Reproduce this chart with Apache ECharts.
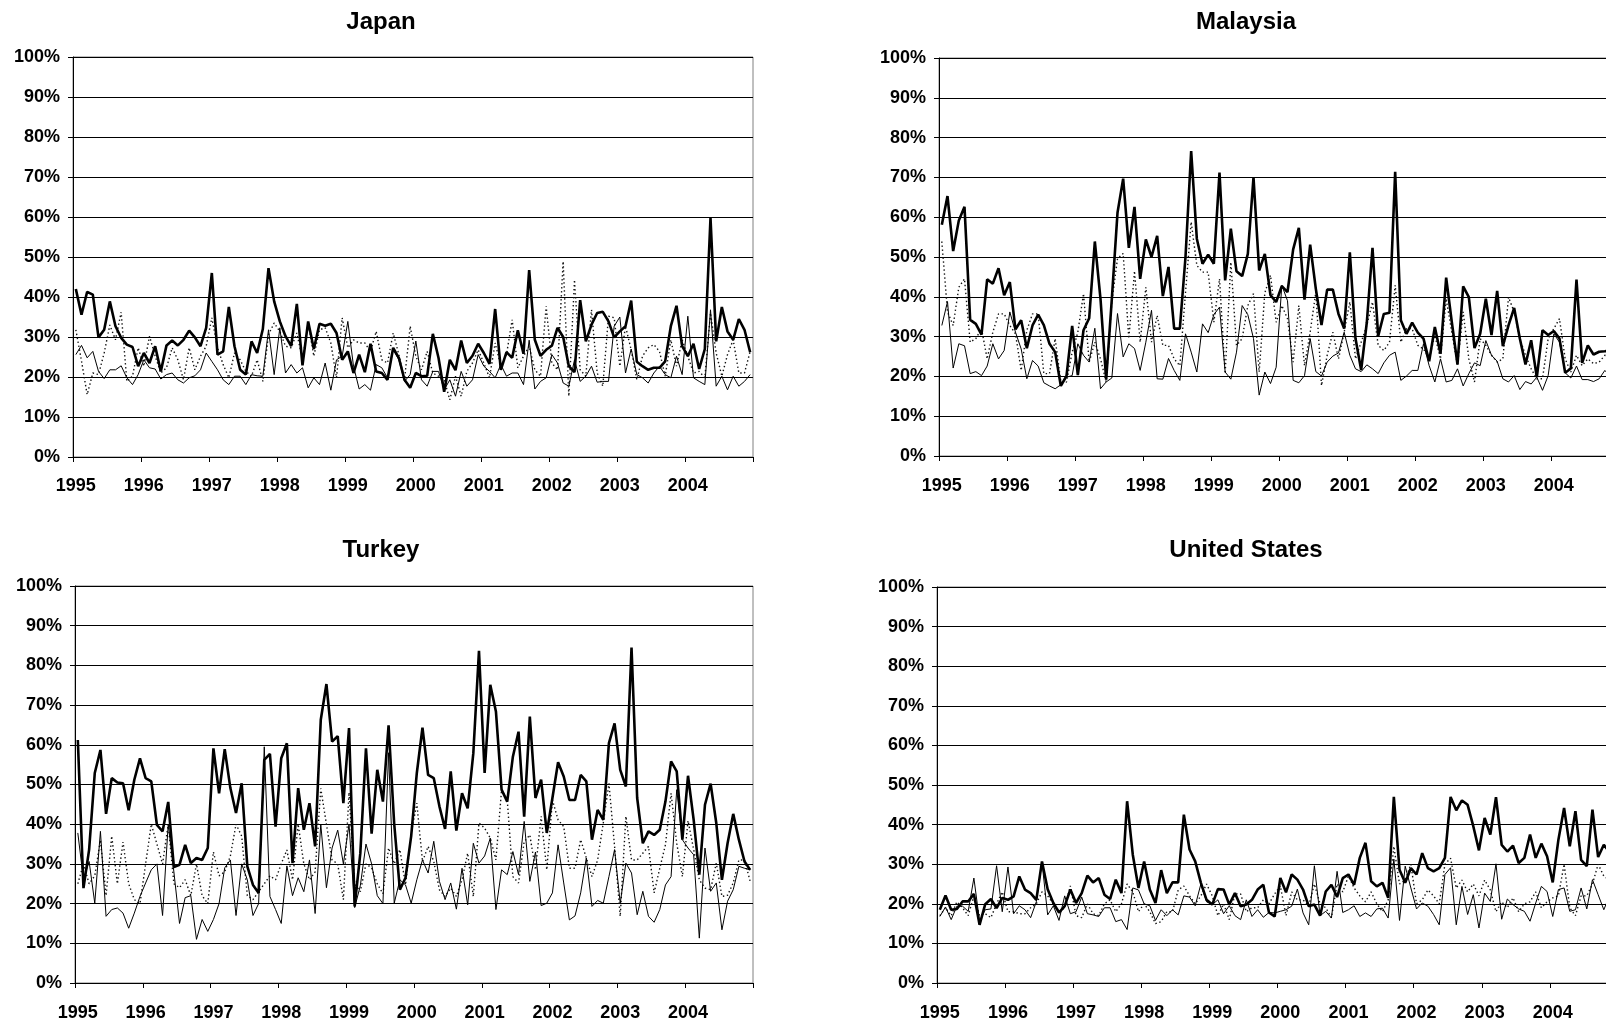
<!DOCTYPE html>
<html><head><meta charset="utf-8">
<script src="https://cdn.jsdelivr.net/npm/echarts@6/dist/echarts.min.js"></script>
<style>html,body{margin:0;padding:0;background:#fff;overflow:hidden}#c{width:1606px;height:1023px}</style>
</head><body><div id="c"></div>
<script>
const years = ['1995','1996','1997','1998','1999','2000','2001','2002','2003','2004'];
const yTicks = [0,10,20,30,40,50,60,70,80,90,100];

const japanThick = [42.0,35.6,41.3,40.6,29.9,31.8,38.9,32.7,29.8,28.1,27.5,22.7,
26.0,23.5,27.7,21.4,27.9,29.1,27.9,29.3,31.6,29.9,27.7,32.3,
46.0,25.6,26.4,37.5,27.7,21.8,20.6,28.9,26.0,32.0,47.2,38.9,
33.9,30.2,27.7,38.3,22.9,33.9,27.0,33.3,32.8,33.3,31.0,24.3,
26.4,21.0,25.6,21.2,28.3,21.4,21.0,19.3,27.3,24.8,19.3,17.3,
21.0,20.2,20.3,30.8,24.8,16.3,24.3,21.7,29.1,23.5,25.3,28.3,
26.0,23.3,37.0,21.8,26.2,24.8,31.7,25.8,46.7,29.3,25.3,26.8,
27.8,32.3,30.0,22.7,21.2,39.2,28.9,33.1,36.0,36.3,33.9,29.9,
31.4,32.7,39.1,23.8,22.7,21.8,22.3,22.3,23.9,32.7,37.8,27.7,
25.2,28.3,22.0,27.0,59.8,28.9,37.5,31.4,29.3,34.5,31.8,26.2];
const japanThin = [25.6,27.9,24.8,26.4,21.4,19.6,21.8,21.8,22.8,19.8,18.1,20.6,
24.3,22.3,22.0,19.5,20.6,21.0,19.3,18.5,19.8,20.3,21.8,26.0,
23.9,21.8,19.3,18.1,20.2,20.2,18.1,20.6,20.3,20.2,31.8,20.6,
32.3,21.0,23.1,21.0,22.3,17.3,19.8,18.1,23.5,16.7,24.3,25.2,
33.9,22.7,17.0,18.1,16.7,23.1,22.3,19.8,26.8,24.3,18.9,20.6,
29.0,19.3,17.7,21.4,21.4,16.8,19.3,15.2,21.4,17.7,19.3,25.6,
22.7,21.4,19.8,23.1,20.2,21.0,21.0,18.1,29.2,17.0,18.9,19.8,
25.6,23.5,18.5,17.7,24.3,18.9,20.2,22.7,18.7,18.9,18.9,32.7,
35.0,21.0,27.0,20.6,19.8,18.5,21.0,22.7,20.6,19.8,25.2,20.6,
35.2,19.8,18.9,18.1,36.8,17.7,20.2,16.8,20.2,17.7,18.9,20.6];
const japanDotted = [31.8,24.0,15.6,21.0,20.6,26.0,33.0,29.3,36.2,18.9,20.2,27.3,
22.7,30.2,25.2,21.0,22.3,27.3,24.3,19.3,27.3,21.8,25.2,27.7,
34.8,27.3,23.1,19.8,26.0,24.3,21.4,20.2,24.3,18.9,30.6,33.5,
31.4,27.7,27.3,31.0,24.3,33.5,25.2,31.8,32.3,28.5,19.8,34.8,
27.3,29.3,28.5,28.5,26.4,31.4,24.3,23.5,31.0,25.6,19.3,32.7,
25.2,21.8,26.4,21.0,20.2,19.3,14.3,20.2,15.2,21.4,23.5,26.8,
23.5,19.8,28.5,22.7,25.6,34.3,22.3,25.2,27.7,21.8,20.2,37.7,
23.5,21.8,48.9,15.2,44.3,21.8,20.2,36.8,21.0,17.7,35.2,34.8,
22.7,32.7,26.8,19.3,25.2,27.3,28.1,26.4,20.2,29.3,22.7,29.3,
25.2,21.0,21.4,19.8,36.0,26.0,20.2,25.6,29.3,21.0,21.0,26.4];

const malaysiaThick = [58.1,65.3,51.5,59.2,62.6,34.2,33.2,30.5,44.4,43.3,47.2,40.4,
43.7,31.8,34.1,27.1,32.8,35.5,32.9,28.2,26.1,17.6,20.1,32.7,
20.3,31.6,34.6,53.9,39.5,19.2,39.5,61.1,69.7,52.3,62.6,44.5,
54.4,50.0,55.3,40.2,47.5,32.0,32.0,50.0,76.6,54.6,48.3,50.6,
48.3,71.2,44.1,57.1,46.4,45.2,50.8,70.0,46.6,50.8,40.4,38.7,
42.7,41.2,51.9,57.3,39.3,53.1,42.0,32.9,41.8,41.8,35.7,32.0,
51.2,29.5,21.6,33.6,52.3,30.1,35.7,36.0,71.4,34.1,30.7,33.5,
31.0,29.5,23.8,32.4,25.7,44.8,33.6,23.0,42.6,39.9,27.1,30.7,
39.5,30.4,41.5,27.6,32.8,37.2,29.5,23.0,29.1,19.8,31.6,30.4,
31.4,29.5,20.9,22.0,44.3,23.4,27.8,25.5,26.2,26.3,26.5,27.0];
const malaysiaThin = [32.8,38.8,22.1,28.2,27.7,20.7,21.2,20.2,22.6,28.2,24.4,26.5,
36.2,31.1,26.9,19.4,24.0,22.6,18.4,17.6,16.9,17.9,19.8,20.2,
28.2,25.3,23.6,32.1,16.9,18.6,19.6,35.8,24.9,28.2,27.0,21.5,
28.6,36.6,19.4,19.3,24.5,21.5,19.0,30.7,26.1,21.1,33.2,31.0,
35.5,37.4,21.1,19.3,26.1,37.8,35.5,29.5,15.3,21.1,18.2,22.3,
42.9,39.0,19.0,18.4,20.2,29.5,21.2,20.1,23.6,25.1,25.9,31.1,
25.3,21.9,21.2,22.9,21.9,20.7,23.4,25.3,26.1,19.0,20.1,21.5,
21.5,28.2,22.7,18.6,24.4,18.6,19.0,21.9,17.6,20.7,23.4,22.7,
29.0,25.3,23.8,19.4,18.6,20.2,16.7,18.7,18.1,19.8,16.5,20.2,
30.7,28.6,20.9,19.6,22.6,19.2,19.2,18.7,19.4,21.5,20.0,21.0];
const malaysiaDotted = [53.9,36.2,32.8,42.4,44.5,28.6,29.5,32.0,24.4,31.1,35.7,35.7,
32.8,30.7,21.5,31.6,35.7,35.7,20.7,20.7,29.5,18.6,18.6,26.1,
31.1,40.8,23.6,28.6,24.4,18.6,38.7,49.6,50.9,29.5,46.5,28.6,
42.4,28.6,35.3,27.8,27.8,24.4,22.7,41.0,58.8,47.9,46.2,46.2,
33.6,44.5,20.7,48.7,27.8,29.5,37.8,40.8,21.1,41.0,45.4,33.6,
37.8,34.5,23.6,37.8,22.7,31.1,41.2,17.7,25.3,31.1,24.4,31.1,
38.7,24.4,28.6,32.8,38.7,27.8,26.5,28.6,42.9,28.6,32.0,32.0,
27.8,26.9,24.4,30.3,24.4,39.5,31.1,22.7,36.2,24.4,18.6,29.5,
27.8,25.3,23.6,24.4,39.9,36.2,29.5,25.3,21.9,19.4,19.4,29.5,
32.0,34.5,24.4,21.1,25.3,22.7,24.4,23.2,23.6,25.3,25.0,24.0];

const turkeyThick = [61.2,23.9,33.6,52.9,58.7,42.6,51.6,50.5,50.3,43.5,51.2,56.6,
51.6,50.8,39.8,38.2,45.6,29.2,29.8,34.8,30.2,31.5,31.0,34.0,
59.1,47.8,58.9,49.1,42.8,50.3,29.4,24.7,22.7,56.2,57.7,39.4,
56.6,60.4,30.2,49.1,38.6,45.3,34.4,66.3,75.3,60.8,62.2,45.3,
64.2,19.3,32.7,59.1,37.6,53.7,45.7,64.9,40.0,23.5,26.5,37.0,
52.9,64.3,52.4,51.6,44.5,38.8,53.3,38.4,47.8,44.0,57.9,83.7,
52.9,75.1,68.4,48.7,45.7,57.0,63.3,41.9,67.1,46.6,51.2,37.8,
46.6,55.6,52.0,46.1,46.1,52.4,50.8,36.1,43.6,41.1,60.4,65.4,
53.7,49.5,84.5,46.6,35.2,38.2,37.3,38.6,45.7,55.8,53.3,36.1,
52.2,41.1,27.3,44.9,50.2,40.3,26.0,35.2,42.6,36.1,30.6,28.5];
const turkeyThin = [37.8,26.0,30.6,20.1,38.2,16.8,18.5,18.9,17.6,13.8,17.6,21.8,
25.2,28.5,30.0,17.0,40.0,28.0,15.0,21.5,22.0,11.0,16.0,13.0,
16.0,20.0,29.0,31.0,17.0,30.0,26.0,17.0,20.0,59.5,21.8,18.5,
15.0,29.5,22.0,26.5,23.0,31.0,17.5,40.0,24.0,34.0,38.5,30.0,
40.0,19.0,24.5,35.0,30.0,22.0,20.0,58.0,20.1,26.0,24.7,20.1,
26.0,31.0,27.7,35.7,25.6,21.0,25.2,18.6,28.9,19.7,35.2,30.2,
32.0,36.5,18.5,28.5,27.3,33.1,27.3,40.7,25.6,33.0,19.5,20.1,
22.7,34.8,25.2,15.9,16.9,22.7,31.5,19.3,20.8,20.1,26.8,33.6,
20.1,30.2,27.7,17.2,23.1,16.8,15.3,18.5,24.7,26.8,48.7,36.1,
34.0,32.3,11.3,34.0,23.1,25.2,13.4,20.6,23.5,29.4,28.9,28.5];
const turkeyDotted = [25,30,25,27,36,22,37,25,35.5,25,21,20,
30,40,35,30,40,25,24,26,22,30,22,20,
33,27,28,32,40,37,22,21,23,25,27,26,
30,33.5,26,40,30,26,28,49,40,31,30,21,
48,25,23,30,29,25,22.5,34,30,33.6,24.7,37.6,
45.3,30.6,34.4,30.6,23.5,21.8,23.9,21.8,26.0,32.7,21.8,40.3,
39.0,36.5,31.0,48.7,46.1,26.8,25.2,35.6,37.3,28.5,42.0,28.5,
46.1,41.1,39.4,28.9,28.9,36.1,31.5,26.8,31.0,40.3,50.3,34.4,
16.8,42.0,31.0,31.0,32.7,34.4,22.7,28.9,34.8,47.8,35.2,26.8,
40.9,33.6,26.0,23.9,23.5,30.2,21.8,22.1,25.2,31.0,31.0,25.6];

const usThick = [18.5,22.1,18.5,18.7,20.6,20.6,22.5,14.7,19.9,21.2,18.9,21.5,
21.0,21.9,26.9,23.6,22.7,21.0,30.7,23.7,20.2,17.8,19.4,23.6,
20.2,22.7,27.1,25.4,26.5,22.3,21.2,26.1,22.7,45.9,32.4,24.0,
30.7,23.6,20.2,28.5,22.7,25.4,25.4,42.5,33.7,30.7,25.3,21.0,
19.8,23.7,23.6,19.8,22.7,19.4,19.8,21.0,23.6,24.8,17.8,16.8,
26.5,22.9,27.4,26.1,23.6,19.4,19.8,17.0,23.1,24.8,21.7,26.5,
27.4,24.8,31.6,35.4,25.7,24.4,25.3,21.5,47.0,28.6,25.3,29.0,
27.4,32.8,29.0,28.2,29.0,31.6,47.0,43.6,46.1,45.0,39.6,33.5,
41.7,37.5,46.9,34.9,33.2,34.7,30.3,31.6,37.5,31.6,35.2,32.0,
25.4,36.2,44.2,34.5,43.4,31.1,29.5,43.8,31.8,34.9,33.0,32.0];
const usThin = [16.8,19.2,16.0,19.4,19.4,18.1,26.5,15.6,18.5,18.7,29.6,18.0,
29.3,17.5,19.5,18.5,16.5,20.5,30.5,17.2,19.5,15.8,22.0,17.5,
18.0,21.7,17.5,17.2,16.8,19.0,19.0,15.5,16.0,13.5,24.0,23.5,
20.0,19.5,15.8,18.5,17.0,18.5,17.2,22.0,21.7,19.5,25.0,20.5,
19.8,21.0,17.5,19.5,17.0,16.0,21.0,16.8,18.5,16.6,17.8,17.7,
18.1,18.5,19.4,23.7,17.7,14.7,29.6,17.0,18.1,16.4,28.2,17.8,
18.5,19.5,16.8,17.7,16.8,18.7,18.9,16.4,31.3,15.8,29.5,24.0,
18.7,20.2,19.4,17.3,14.7,27.4,29.1,14.7,24.4,17.3,22.3,13.9,
22.7,20.6,30.1,16.1,21.2,19.8,18.7,18.1,15.6,20.2,24.4,23.1,
16.8,23.6,24.0,18.1,18.5,24.0,18.7,26.1,22.3,18.5,22.0,19.0];
const usDotted = [17,19,17,20.5,19,17,22,17,17.5,16.5,20,23,
18,18,17.5,17.5,19,20,23,22,20,18,19,24.5,
17,16.5,20,17.5,17,20,21,18,20,25,23,18,
20,18,15,15.5,18,18,23.5,24.5,22,20,22,25,
22,17,20,16,22.5,22.5,18,19,19,21,20,22.5,
24.5,17,23,21,21,19.5,25,20,19,16.5,25,23,
27,24,22,20.5,23,20,18,21,34.5,25,26,30,
20,21,23.5,22,20,30,31.5,24,26,23,25,22,
26,23.5,18,20.5,19,21.5,18,20,20.5,23,19,20.5,
21.5,22,30,19,17,22,22,25,30,27,26,25];

const categories = [];
years.forEach(function (y) { for (let m = 1; m <= 12; m++) categories.push(y + '-' + (m < 10 ? '0' : '') + m); });

const FONT = 'Arial, "Liberation Sans", sans-serif';
const panels = [
  { name: 'Japan', thick: japanThick, thin: japanThin, dotted: japanDotted,
    grid: { left: 73, top: 57, width: 680, height: 400 }, tx: 376, ty: 5, xm: 20 },
  { name: 'Malaysia', thick: malaysiaThick, thin: malaysiaThin, dotted: malaysiaDotted,
    grid: { left: 939, top: 58, width: 680, height: 398 }, tx: 1241, ty: 5, xm: 21 },
  { name: 'Turkey', thick: turkeyThick, thin: turkeyThin, dotted: turkeyDotted,
    grid: { left: 75, top: 586, width: 678, height: 397 }, tx: 376, ty: 533, xm: 21 },
  { name: 'United States', thick: usThick, thin: usThin, dotted: usDotted,
    grid: { left: 937, top: 587, width: 681, height: 396 }, tx: 1241, ty: 533, xm: 21 }
];

const option = { animation: false, backgroundColor: '#fff', title: [], grid: [], xAxis: [], yAxis: [], series: [] };
panels.forEach(function (p, k) {
  option.title.push({ text: p.name, left: p.tx, top: p.ty, textAlign: 'center',
    textStyle: { fontFamily: FONT, fontSize: 24, fontWeight: 'bold', color: '#000' } });
  option.grid.push(Object.assign({ show: true, borderColor: '#808080', borderWidth: 1,
    backgroundColor: 'transparent', containLabel: false, outerBoundsMode: 'none' }, p.grid));
  option.xAxis.push({ type: 'category', gridIndex: k, data: categories, boundaryGap: true,
    axisLine: { show: true, lineStyle: { color: '#000', width: 1 } },
    axisTick: { show: true, interval: 11, length: 5, inside: false, lineStyle: { color: '#000' } },
    axisLabel: { interval: 11, margin: p.xm, formatter: function (v) { return v.slice(0, 4); },
      fontFamily: FONT, fontSize: 18, fontWeight: 'bold', color: '#000' },
    splitLine: { show: false } });
  option.yAxis.push({ type: 'value', gridIndex: k, min: yTicks[0], max: yTicks[yTicks.length - 1], interval: 10,
    axisLine: { show: true, lineStyle: { color: '#000', width: 1 } },
    axisTick: { show: true, length: 5, inside: false, lineStyle: { color: '#000' } },
    axisLabel: { margin: 13, formatter: '{value}%', fontFamily: FONT, fontSize: 18, fontWeight: 'bold', color: '#000' },
    splitLine: { show: true, lineStyle: { color: '#000', width: 1 } } });
  option.series.push({ type: 'line', xAxisIndex: k, yAxisIndex: k, data: p.dotted, symbol: 'none', silent: true, z: 2,
    lineStyle: { color: '#111', width: 1.4, type: [1.4, 2.6] } });
  option.series.push({ type: 'line', xAxisIndex: k, yAxisIndex: k, data: p.thin, symbol: 'none', silent: true, z: 3,
    lineStyle: { color: '#000', width: 1 } });
  option.series.push({ type: 'line', xAxisIndex: k, yAxisIndex: k, data: p.thick, symbol: 'none', silent: true, z: 4,
    lineStyle: { color: '#000', width: 2.6 } });
});

const chart = echarts.init(document.getElementById('c'), null, { renderer: 'canvas', width: 1606, height: 1023 });
chart.setOption(option);
</script>
</body></html>
